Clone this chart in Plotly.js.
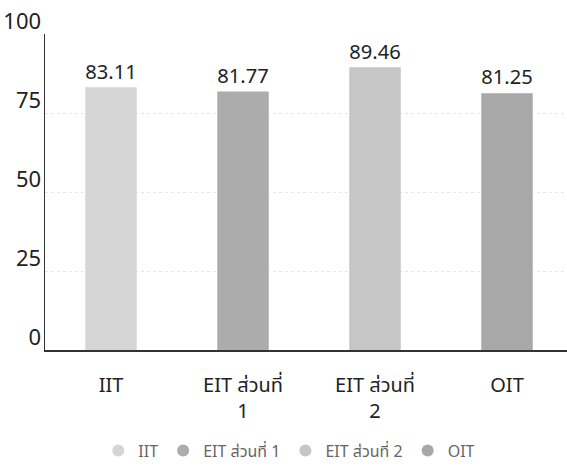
<!DOCTYPE html>
<html>
<head>
<meta charset="utf-8">
<script src="https://cdn.plot.ly/plotly-3.0.1.min.js"></script>
<style>html,body{margin:0;padding:0;background:#fff;}#chart{width:567px;height:468px;}</style>
</head>
<body>
<div id="chart"></div>
<script>
var categories = ["IIT", "EIT ส่วนที่ 1", "EIT ส่วนที่ 2", "OIT"];
var tickLabels = ["IIT", "EIT ส่วนที่<br>1", "EIT ส่วนที่<br>2", "OIT"];
var values = [83.11, 81.77, 89.46, 81.25];
var colors = ["#d5d5d5", "#acacac", "#c6c6c6", "#a8a8a8"];
var yTicks = [0, 25, 50, 75, 100];

var FONT = "'Noto Sans', 'Noto Sans Thai', 'Open Sans', sans-serif";
var traces = [];
for (var i = 0; i < categories.length; i++) {
  traces.push({
    type: "bar",
    x: [categories[i]],
    y: [values[i]],
    width: 0.39,
    marker: {color: colors[i]},
    text: [values[i].toFixed(2)],
    textposition: "outside",
    textfont: {size: 21, color: "#222", family: FONT},
    cliponaxis: false,
    showlegend: false,
    hoverinfo: "none"
  });
}
for (var j = 0; j < categories.length; j++) {
  traces.push({
    type: "scatter",
    mode: "markers",
    x: [categories[j]],
    y: [null],
    name: categories[j],
    marker: {color: colors[j], size: 12, symbol: "circle"},
    showlegend: true,
    hoverinfo: "none"
  });
}

var layout = {
  width: 567,
  height: 468,
  margin: {l: 45, r: 0, t: 34, b: 118},
  paper_bgcolor: "#fff",
  plot_bgcolor: "#fff",
  barmode: "overlay",
  font: {family: FONT, color: "#222"},
  xaxis: {
    type: "category",
    categoryorder: "array",
    categoryarray: categories,
    tickvals: categories,
    ticktext: tickLabels,
    range: [-0.5, 3.4545],
    showline: true,
    linecolor: "#333",
    linewidth: 1.5,
    ticks: "",
    showgrid: false,
    tickfont: {size: 20, color: "#222"},
    ticklabelstandoff: 16,
    automargin: false,
    fixedrange: true
  },
  yaxis: {
    range: [0, 100],
    tickvals: yTicks,
    ticktext: yTicks.map(String),
    showline: true,
    linecolor: "#333",
    linewidth: 1.5,
    ticks: "",
    showgrid: true,
    gridcolor: "#e6e6e6",
    griddash: "dot",
    gridwidth: 1,
    zeroline: false,
    tickfont: {size: 22, color: "#222"},
    ticklabelshift: -13,
    ticklabelstandoff: -2,
    automargin: false,
    fixedrange: true
  },
  showlegend: true,
  legend: {
    orientation: "h",
    x: 0.468,
    xanchor: "center",
    y: -0.372,
    yanchor: "bottom",
    font: {size: 16, color: "#666"},
    tracegroupgap: 0
  }
};

Plotly.newPlot("chart", traces, layout, {displayModeBar: false, staticPlot: true});
</script>
</body>
</html>
